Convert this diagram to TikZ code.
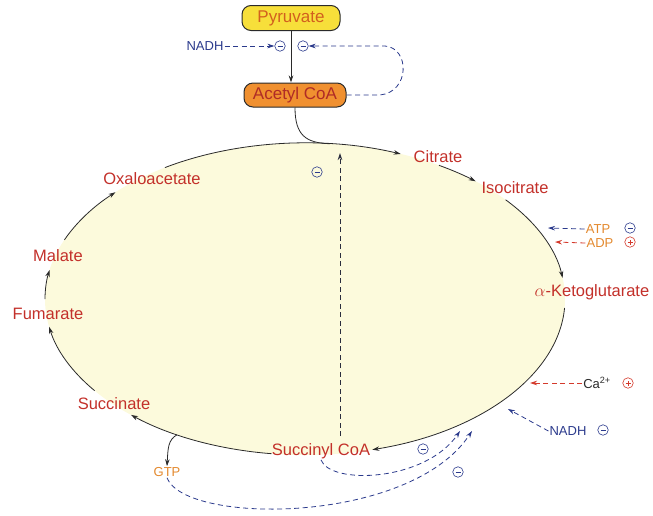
\documentclass[tikz,border=0pt]{standalone}
\usepackage{fontspec}
\setmainfont{Liberation Sans}
\usetikzlibrary{arrows.meta,calc}
\definecolor{cycred}{HTML}{C3302A}
\definecolor{navy}{HTML}{2B3A8C}
\definecolor{orng}{HTML}{E3892E}
\definecolor{actred}{HTML}{D43A2C}
\definecolor{cream}{HTML}{FCFADC}
\definecolor{linec}{HTML}{2A2A2A}
\definecolor{pyrfill}{HTML}{F7DF3A}
\definecolor{acofill}{HTML}{F09030}
\definecolor{pyrtext}{HTML}{D2601E}
\begin{document}
\begin{tikzpicture}[x=1pt,y=-1pt,
  lbl/.style={text=cycred,font=\fontsize{16.5}{18}\selectfont,inner sep=1pt},
  sml/.style={font=\fontsize{13}{15}\selectfont,inner sep=1pt},
  boxn/.style={draw=linec,line width=1pt,rounded corners=9pt,font=\fontsize{17}{19}\selectfont,inner sep=2pt},
  cyc/.style={draw=linec,line width=0.8pt,-{Stealth[length=7pt,width=4.5pt]}},
  plain/.style={draw=linec,line width=0.8pt},
  inhib/.style={draw=navy,line width=0.8pt,dash pattern=on 5pt off 3.5pt,-{Stealth[length=7pt,width=4.5pt]}},
  actv/.style={draw=actred,line width=0.8pt,dash pattern=on 5pt off 3.5pt,-{Stealth[length=7pt,width=4.5pt]}},
  inh/.style={circle,draw=#1,line width=0.6pt,inner sep=0pt,minimum size=10.5pt,
    path picture={\draw[#1,line width=0.8pt] ([xshift=-2.5pt]path picture bounding box.center) -- ([xshift=2.5pt]path picture bounding box.center);}},
  act/.style={circle,draw=#1,line width=0.6pt,inner sep=0pt,minimum size=10.5pt,
    path picture={\draw[#1,line width=0.8pt] ([xshift=-2.5pt]path picture bounding box.center) -- ([xshift=2.5pt]path picture bounding box.center)
      ([yshift=-2.5pt]path picture bounding box.center) -- ([yshift=2.5pt]path picture bounding box.center);}},
  cycarc/.style={x radius=260,y radius=156}
]
\useasboundingbox (0,0) rectangle (653,515);
\coordinate (C) at (305,299);
\fill[cream] (C) ellipse [x radius=260,y radius=156];

% top nodes
\node[boxn,fill=pyrfill,text=pyrtext,minimum width=98pt,minimum height=25pt] (pyr) at (291,18) {Pyruvate};
\node[boxn,fill=acofill,text=cycred!90!black,minimum width=102pt,minimum height=24pt] (acoa) at (295,95) {Acetyl CoA};
\node[sml,text=navy] (nadh1) at (205,46) {NADH};
\node[inh=navy] (m1) at (280,46) {};
\node[inh=navy] (m2) at (303,46) {};

% cycle labels
\node[lbl] (cit) at (438,157) {Citrate};
\node[lbl] (iso) at (515,188) {Isocitrate};
\node[lbl] (akg) at (592,292) {$\alpha$-Ketoglutarate};
\node[lbl] (succoa) at (321,451) {Succinyl CoA};
\node[lbl] (succ) at (114,404) {Succinate};
\node[lbl] (fum) at (48,314) {Fumarate};
\node[lbl] (mal) at (58,256) {Malate};
\node[lbl] (oxa) at (152,179) {Oxaloacetate};

% regulators
\node[sml,text=orng] (atp) at (598,229) {ATP};
\node[inh=navy] (atpm) at (630,228) {};
\node[sml,text=orng] (adp) at (600,243) {ADP};
\node[act=actred] (adpp) at (630,242) {};
\node[sml,text=linec] (ca) at (597,383) {Ca\textsuperscript{2+}};
\node[act=actred] (cap) at (628,383) {};
\node[sml,text=navy] (nadh2) at (568,431) {NADH};
\node[inh=navy] (nadhm) at (603,430) {};
\node[sml,text=orng] (gtp) at (167,472) {GTP};
\node[inh=navy] (b1) at (423,449) {};
\node[inh=navy] (b2) at (458,472) {};
\node[inh=navy] (vm) at (317,172) {};

% cycle arcs
\coordinate (s1) at ($(C)+(-122.6:260 and 156)$);
\coordinate (s2) at ($(C)+(-59:260 and 156)$);
\coordinate (s3) at ($(C)+(-39.5:260 and 156)$);
\coordinate (s4) at ($(C)+(3.3:260 and 156)$);
\coordinate (s5) at ($(C)+(97.4:260 and 156)$);
\coordinate (s6) at ($(C)+(144:260 and 156)$);
\coordinate (s7) at ($(C)+(180:260 and 156)$);
\coordinate (s8) at ($(C)+(202.3:260 and 156)$);
\draw[cyc] (s1) arc[cycarc,start angle=-122.6,end angle=-68.4];
\draw[cyc] (s2) arc[cycarc,start angle=-59,end angle=-49];
\draw[cyc] (s3) arc[cycarc,start angle=-39.5,end angle=-7.8];
\draw[cyc] (s4) arc[cycarc,start angle=3.3,end angle=75];
\draw[cyc] (s5) arc[cycarc,start angle=97.4,end angle=132];
\draw[cyc] (s6) arc[cycarc,start angle=144,end angle=169.7];
\draw[cyc] (s7) arc[cycarc,start angle=180,end angle=190.7];
\draw[cyc] (s8) arc[cycarc,start angle=202.3,end angle=223.2];

% pyruvate -> acetyl CoA -> cycle
\draw[cyc] (pyr.south) -- (pyr.south |- acoa.north);
\coordinate (ac1) at ($(C)+(-84.5:260 and 156)$);
\draw[plain] (acoa.south) .. controls +(0,28) and (306,143) .. (ac1);

% pyruvate dehydrogenase regulation
\draw[inhib] (nadh1.east) -- (m1.west);
\draw[inhib] (acoa.east) -- (380,95) .. controls (410,92) and (410,48) .. (385,46) -- (m2.east);

% right regulators
\coordinate (atpt) at (548,228);
\coordinate (adpt) at (555,242);
\coordinate (cat) at (530,383);
\coordinate (nadt) at (508,409);
\draw[inhib] (atp.west) -- (atpt);
\draw[actv] (adp.west) -- (adpt);
\draw[actv] (ca.west) -- (cat);
\draw[inhib] (nadh2.west) -- (nadt);

% GTP
\coordinate (g1) at ($(C)+(119.5:260 and 156)$);
\draw[cyc] (g1) .. controls (168,440) and (168,448) .. (gtp.north);

% bottom feedback
\coordinate (t1) at (460,431);
\coordinate (t2) at (472,431);
\draw[inhib] (succoa.south) .. controls (330,485) and (425,482) .. (t1);
\draw[inhib] (gtp.south) .. controls (185,525) and (410,525) .. (t2);

% vertical feedback to citrate synthase
\coordinate (vb) at (340,436);
\coordinate (vt) at (340,153);
\draw[inhib,draw=linec!80!navy] (vb) -- (vt);
\end{tikzpicture}
\end{document}
